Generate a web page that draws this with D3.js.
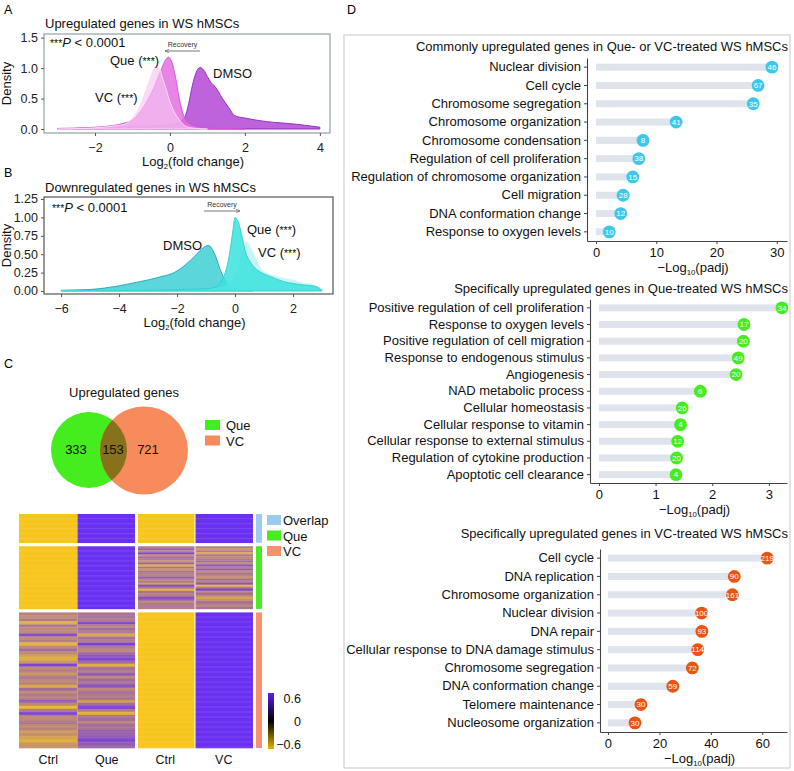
<!DOCTYPE html>
<html>
<head>
<meta charset="utf-8">
<script src="https://cdn.jsdelivr.net/npm/d3@7"></script>
<style>
  body { margin: 0; background: #fff; }
  svg { font-family: "Liberation Sans", Arial, sans-serif; }
</style>
</head>
<body>
<div id="fig"></div>
<script>
// ---- panel A: upregulated genes, density of log2 fold change
var aDmsoX = [-3, -2, -1.5, -1, -0.5, 0, 0.2, 0.4, 0.5, 0.6, 0.7, 0.8, 0.9, 1.0, 1.1, 1.2, 1.4, 1.56, 1.73, 2.0, 2.27, 2.6, 3.0, 3.5, 4.0]
var aDmsoY = [0.01, 0.02, 0.03, 0.04, 0.05, 0.07, 0.1, 0.2, 0.42, 0.72, 0.93, 1.01, 0.97, 0.86, 0.76, 0.7, 0.5, 0.36, 0.22, 0.18, 0.15, 0.12, 0.1, 0.07, 0.03]
var aQueX = [-3, -2, -1.5, -1.2, -1, -0.8, -0.6, -0.4, -0.25, -0.1, -0.04, 0.05, 0.15, 0.25, 0.35, 0.5, 0.7, 1.0, 1.5, 2]
var aQueY = [0.0, 0.03, 0.06, 0.1, 0.15, 0.28, 0.47, 0.72, 0.95, 1.15, 1.18, 1.1, 0.85, 0.5, 0.25, 0.1, 0.05, 0.02, 0.01, 0]
var aVcX = [-3, -2, -1.5, -1.2, -1, -0.84, -0.7, -0.55, -0.45, -0.36, -0.28, -0.2, -0.1, 0, 0.1, 0.25, 0.44, 0.7, 1]
var aVcY = [0, 0.02, 0.05, 0.08, 0.18, 0.33, 0.55, 0.8, 0.97, 1.04, 1.0, 0.84, 0.65, 0.45, 0.3, 0.15, 0.04, 0.01, 0]
var aYTicks = [0, 0.5, 1.0, 1.5]
var aXTicks = [-2, 0, 2, 4]

// ---- panel B: downregulated genes
var bDmsoX = [-6, -5.5, -5, -4.5, -4, -3.5, -3, -2.5, -2.1, -1.7, -1.4, -1.15, -0.92, -0.7, -0.5, -0.3, -0.15, 0, 0.3, 0.6]
var bDmsoY = [0.01, 0.015, 0.02, 0.04, 0.07, 0.11, 0.15, 0.2, 0.25, 0.36, 0.47, 0.57, 0.62, 0.5, 0.28, 0.12, 0.06, 0.03, 0.01, 0]
var bQueX = [-6, -3, -2, -1, -0.64, -0.45, -0.3, -0.18, -0.08, 0, 0.1, 0.23, 0.35, 0.52, 0.7, 0.86, 1.2, 1.66, 2.2, 2.8, 3]
var bQueY = [0, 0.01, 0.02, 0.03, 0.06, 0.15, 0.3, 0.53, 0.8, 1.0, 0.95, 0.76, 0.55, 0.4, 0.31, 0.26, 0.2, 0.13, 0.09, 0.06, 0.01]
var bVcX = [-6, -2, -1, -0.5, -0.2, 0, 0.17, 0.3, 0.4, 0.55, 0.75, 0.9, 1.1, 1.4, 1.66, 2.0, 2.2, 2.4, 2.6, 2.8, 3]
var bVcY = [0, 0.01, 0.02, 0.05, 0.1, 0.2, 0.4, 0.6, 0.67, 0.58, 0.42, 0.3, 0.24, 0.2, 0.17, 0.15, 0.13, 0.1, 0.1, 0.06, 0.01]
var bYTicks = [0, 0.25, 0.5, 0.75, 1.0, 1.25]
var bXTicks = [-6, -4, -2, 0, 2]

// ---- panel C: venn + heatmap
var vennSets = ["Que", "VC"]
var vennCounts = [333, 153, 721]   // Que only, overlap, VC only
var blockNames = ["Overlap", "Que", "VC"]
var blockGenes = [153, 333, 721]
var heatCols = ["Ctrl", "Que", "Ctrl", "VC"]
// share of genes higher in the treated column, per row bin of each block
var queShare = [
  [1],
  [1],
  [0.55, 0.6, 0.5, 0.85, 0.45, 0.6, 0.55, 0.2, 0.6, 0.5, 0.9, 0.55, 0.4, 0.6, 0.75, 0.85, 0.65, 0.15, 0.6, 0.5, 0.7, 0.45, 0.6, 0.55, 0.8, 0.4, 0.6, 0.5, 0.55, 0.3, 0.6, 0.9, 0.5, 0.15, 0.55, 0.6, 0.45, 0.6, 0.55, 0.7, 0.65, 0.75, 0.85, 0.7, 0.65]
]
var vcShare = [
  [1],
  [0.5, 0.3, 0.55, 0.15, 0.6, 0.4, 0.5, 0.65, 0.35, 0.85, 0.45, 0.7, 0.4, 0.55, 0.5, 0.3, 0.6, 0.45, 0.75, 0.1, 0.5, 0.9, 0.4, 0.6, 0.45, 0.2, 0.35, 0.6, 0.5, 0.45, 0.55],
  [1]
]
var zTicks = [-0.6, 0, 0.6]

// ---- panel D: GO terms
var d1Terms = ["Nuclear division", "Cell cycle", "Chromosome segregation", "Chromosome organization", "Chromosome condensation", "Regulation of cell proliferation", "Regulation of chromosome organization", "Cell migration", "DNA conformation change", "Response to oxygen levels"]
var d1Values = [29.2, 26.9, 26.1, 13.3, 7.8, 7.1, 6.1, 4.5, 4.1, 2.2]
var d1Counts = [46, 67, 35, 41, 8, 38, 15, 28, 12, 10]
var d2Terms = ["Positive regulation of cell proliferation", "Response to oxygen levels", "Positive regulation of cell migration", "Response to endogenous stimulus", "Angiogenesis", "NAD metabolic process", "Cellular homeostasis", "Cellular response to vitamin", "Cellular response to external stimulus", "Regulation of cytokine production", "Apoptotic cell clearance"]
var d2Values = [3.23, 2.56, 2.55, 2.46, 2.42, 1.79, 1.47, 1.44, 1.39, 1.37, 1.36]
var d2Counts = [34, 17, 20, 49, 20, 6, 26, 4, 12, 20, 4]
var d3Terms = ["Cell cycle", "DNA replication", "Chromosome organization", "Nuclear division", "DNA repair", "Cellular response to DNA damage stimulus", "Chromosome segregation", "DNA conformation change", "Telomere maintenance", "Nucleosome organization"]
var d3Values = [61.9, 49.1, 48.4, 36.4, 36.5, 34.9, 32.8, 25.2, 12.8, 10.5]
var d3Counts = [219, 90, 161, 100, 93, 114, 72, 59, 30, 30]

var svg = d3.select("#fig").append("svg")
  .attr("width", 794)
  .attr("height", 771)

function panelLetter(t, x, y) {
  svg.append("text").attr("x", x).attr("y", y).attr("font-size", 12.5).text(t)
}
panelLetter("A", 4, 14)
panelLetter("B", 4, 177)
panelLetter("C", 4, 368)
panelLetter("D", 347, 14)

// label with subscript
function subLabel(g, x, y, pre, sub, post, size, anchor) {
  var t = g.append("text").attr("x", x).attr("y", y).attr("font-size", size)
    .attr("text-anchor", anchor || "middle").attr("fill", "#111")
  t.append("tspan").text(pre)
  t.append("tspan").attr("font-size", size * 0.6).attr("dy", size * 0.25).text(sub)
  t.append("tspan").attr("dy", -size * 0.25).text(post)
}

function starLabel(x, y, pre, post) {
  var t = svg.append("text").attr("x", x).attr("y", y).attr("font-size", 13).attr("fill", "#111")
  t.append("tspan").text(pre)
  t.append("tspan").attr("font-size", 10.5).text("***")
  t.append("tspan").text(post)
}

function pLabel(x, y) {
  var t = svg.append("text").attr("x", x).attr("y", y).attr("font-size", 13).attr("fill", "#111")
  t.append("tspan").attr("font-size", 10.5).text("***")
  t.append("tspan").attr("font-style", "italic").text("P")
  t.append("tspan").text(" < 0.0001")
}

function densityPanel(o) {
  var x = d3.scaleLinear().domain(o.xDom).range([o.left, o.right])
  var y = d3.scaleLinear().domain(o.yDom).range([o.bottom, o.top])
  var area = d3.area().curve(d3.curveMonotoneX)
    .x(d => x(d[0])).y0(y(0)).y1(d => y(d[1]))
  o.series.forEach(function (s) {
    var pts = d3.zip(s.x, s.y)
    svg.append("path").attr("d", area(pts))
      .attr("fill", s.fill).attr("fill-opacity", s.alpha)
      .attr("stroke", s.stroke).attr("stroke-width", 0.9)
  })
  svg.append("rect").attr("x", o.left).attr("y", o.top)
    .attr("width", o.right - o.left).attr("height", o.bottom - o.top)
    .attr("fill", "none").attr("stroke", o.border).attr("stroke-width", 1.2)
  var ya = svg.append("g").attr("transform", "translate(" + o.left + ",0)")
    .call(d3.axisLeft(y).tickValues(o.yTicks).tickSize(3).tickFormat(o.yFmt))
  var xa = svg.append("g").attr("transform", "translate(0," + o.bottom + ")")
    .call(d3.axisBottom(x).tickValues(o.xTicks).tickSize(3).tickFormat(d3.format("d")))
  ;[ya, xa].forEach(function (a) {
    a.select(".domain").remove()
    a.selectAll("line").attr("stroke", "#555")
    a.selectAll("text").attr("font-size", 12.5).attr("fill", "#222").attr("font-family", "Liberation Sans, Arial, sans-serif")
  })
  xa.selectAll("text").attr("dy", "1.05em")
  svg.append("text").attr("font-size", 13).attr("fill", "#111")
    .attr("x", o.left + 1).attr("y", o.titleY).text(o.title)
  svg.append("text").attr("font-size", 13).attr("fill", "#111").attr("text-anchor", "middle")
    .attr("transform", "translate(" + (o.left - 33) + "," + ((o.top + o.bottom) / 2) + ") rotate(-90)")
    .text("Density")
  subLabel(svg, (o.left + o.right) / 2 + 6, o.xTitleY, "Log", "2", "(fold change)", 13)
  return x
}

densityPanel({
  left: 44, right: 330, top: 34, bottom: 133,
  xDom: [-3.36, 4.27], yDom: [-0.065, 1.56],
  xTicks: aXTicks, yTicks: aYTicks, yFmt: d3.format(".1f"),
  border: "#8fa3a3", title: "Upregulated genes in WS hMSCs", titleY: 28, xTitleY: 166,
  series: [
    { x: aDmsoX, y: aDmsoY, fill: "#b348d6", alpha: 0.85, stroke: "#8e22bc" },
    { x: aQueX, y: aQueY, fill: "#e46fe2", alpha: 0.85, stroke: "#d24fd2" },
    { x: aVcX, y: aVcY, fill: "#f7c6f2", alpha: 0.65, stroke: "#fbe2f8" }
  ]
})
pLabel(50, 47)
starLabel(110, 65, "Que (", ")")
starLabel(95, 102, "VC (", ")")
svg.append("text").attr("x", 213).attr("y", 78).attr("font-size", 13).attr("fill", "#111").text("DMSO")

densityPanel({
  left: 44, right: 333, top: 197, bottom: 294,
  xDom: [-6.59, 3.38], yDom: [-0.041, 1.277],
  xTicks: bXTicks, yTicks: bYTicks, yFmt: d3.format(".2f"),
  border: "#555", title: "Downregulated genes in WS hMSCs", titleY: 192, xTitleY: 327,
  series: [
    { x: bDmsoX, y: bDmsoY, fill: "#3fd0d2", alpha: 0.85, stroke: "#239fc4" },
    { x: bVcX, y: bVcY, fill: "#bff2f2", alpha: 0.85, stroke: "#d6f6f6" },
    { x: bQueX, y: bQueY, fill: "#39e2dc", alpha: 0.85, stroke: "#2ccfd2" }
  ]
})
pLabel(52, 212)
starLabel(247, 234, "Que (", ")")
starLabel(258, 257, "VC (", ")")
svg.append("text").attr("x", 163).attr("y", 250).attr("font-size", 13).attr("fill", "#111").text("DMSO")

// recovery arrows
svg.append("defs").append("marker").attr("id", "arr")
  .attr("viewBox", "0 0 10 10").attr("refX", 9).attr("refY", 5)
  .attr("markerWidth", 6).attr("markerHeight", 6).attr("orient", "auto-start-reverse")
  .append("path").attr("d", "M0,1 L9,5 L0,9").attr("fill", "none").attr("stroke", "#555").attr("stroke-width", 1.3)
function recovery(x1, x2, y) {
  svg.append("line").attr("x1", x1).attr("x2", x2).attr("y1", y).attr("y2", y)
    .attr("stroke", "#555").attr("stroke-width", 0.8).attr("marker-end", "url(#arr)")
  svg.append("text").attr("x", (x1 + x2) / 2).attr("y", y - 4).attr("font-size", 7)
    .attr("text-anchor", "middle").attr("fill", "#333").text("Recovery")
}
recovery(200, 165, 51)
recovery(204, 240, 211)

// ---- venn
var vennColors = ["#45ec1e", "#f78b5c"]
svg.append("text").attr("x", 124).attr("y", 397).attr("font-size", 13)
  .attr("text-anchor", "middle").attr("fill", "#111").text("Upregulated genes")
var circles = [{ cx: 89, cy: 450, r: 38 }, { cx: 144, cy: 450.5, r: 44 }]
svg.append("clipPath").attr("id", "vcclip").append("circle")
  .attr("cx", circles[1].cx).attr("cy", circles[1].cy).attr("r", circles[1].r)
circles.forEach(function (c, i) {
  svg.append("circle").attr("cx", c.cx).attr("cy", c.cy).attr("r", c.r).attr("fill", vennColors[i])
})
svg.append("circle").attr("cx", circles[0].cx).attr("cy", circles[0].cy).attr("r", circles[0].r)
  .attr("fill", "#87711b").attr("clip-path", "url(#vcclip)")
var vennX = [76, 113, 148]
vennCounts.forEach(function (v, i) {
  svg.append("text").attr("x", vennX[i]).attr("y", 454).attr("font-size", 13)
    .attr("text-anchor", "middle").attr("fill", "#111").text(v)
})
vennSets.forEach(function (s, i) {
  svg.append("rect").attr("x", 205).attr("y", 420 + i * 15.5).attr("width", 15).attr("height", 10).attr("fill", vennColors[i])
  svg.append("text").attr("x", 226).attr("y", 430 + i * 15.5).attr("font-size", 13).attr("fill", "#111").text(s)
})

// ---- heatmap
var hmTop = 514, hmGap = 3.5, hmBottom = 748
var totalGenes = d3.sum(blockGenes)
var rowPx = d3.scaleLinear().domain([0, totalGenes]).range([0, hmBottom - hmTop - hmGap * (blockGenes.length - 1)])
var blockY = []
var acc = hmTop
blockGenes.forEach(function (n) { blockY.push([acc, acc + rowPx(n)]); acc += rowPx(n) + hmGap })
var colX = d3.scaleBand().domain(d3.range(4)).range([19, 253]).paddingInner(0)
var yellow = "#f7c51c", purple = "#6a30f2"
var mix = d3.interpolateRgb(yellow, purple)
var shareSets = [queShare, vcShare]
var hm = svg.append("g")
blockY.forEach(function (yy, b) {
  shareSets.forEach(function (shares, pair) {
    var bins = shares[b]
    var by = d3.scaleLinear().domain([0, bins.length]).range(yy)
    bins.forEach(function (s, k) {
      var y0 = by(k), h = by(k + 1) - by(k)
      var xC = colX(pair * 2), xT = colX(pair * 2 + 1)
      var xs = pair === 0 ? [xC, xT] : [xC + 2, xT + 1]
      var w = pair === 0 ? [colX.bandwidth(), colX.bandwidth() - 1] : [colX.bandwidth() - 2, colX.bandwidth() - 1]
      hm.append("rect").attr("x", xs[0]).attr("y", y0).attr("width", w[0]).attr("height", h + 0.3).attr("fill", mix(1 - s))
      hm.append("rect").attr("x", xs[1]).attr("y", y0).attr("width", w[1]).attr("height", h + 0.3).attr("fill", mix(s))
    })
  })
})
// faint row lines over the heatmap
blockY.forEach(function (yy) {
  d3.range(yy[0] + 4, yy[1] - 1, 5).forEach(function (ly) {
    hm.append("rect").attr("x", 19).attr("y", ly).attr("width", 234).attr("height", 1.2)
      .attr("fill", "#fff").attr("opacity", 0.1)
  })
})
// block annotation bar
var annColors = ["#9ccbf0", "#45ec1e", "#f89070"]
blockY.forEach(function (yy, b) {
  svg.append("rect").attr("x", 256).attr("y", yy[0]).attr("width", 6).attr("height", yy[1] - yy[0]).attr("fill", annColors[b])
})
blockNames.forEach(function (n, i) {
  svg.append("rect").attr("x", 267).attr("y", 515 + i * 15.5).attr("width", 14).attr("height", 10).attr("fill", annColors[i])
  svg.append("text").attr("x", 283).attr("y", 525 + i * 15.5).attr("font-size", 13).attr("fill", "#111").text(n)
})
heatCols.forEach(function (c, i) {
  svg.append("text").attr("x", colX(i) + colX.bandwidth() / 2).attr("y", 764).attr("font-size", 12.5)
    .attr("text-anchor", "middle").attr("fill", "#111").text(c)
})
// colour key
var grad = svg.append("defs").append("linearGradient").attr("id", "zgrad")
  .attr("x1", 0).attr("x2", 0).attr("y1", 1).attr("y2", 0)
grad.append("stop").attr("offset", "0%").attr("stop-color", "#e2b300")
grad.append("stop").attr("offset", "50%").attr("stop-color", "#000")
grad.append("stop").attr("offset", "100%").attr("stop-color", "#5a1ef2")
svg.append("rect").attr("x", 268).attr("y", 693).attr("width", 6).attr("height", 56).attr("fill", "url(#zgrad)")
var zY = d3.scaleLinear().domain([-0.6, 0.6]).range([744, 698])
zTicks.forEach(function (t) {
  svg.append("text").attr("x", 301).attr("y", zY(t) + 4.5).attr("font-size", 12.5).attr("text-anchor", "end")
    .attr("fill", "#111").text(t === 0 ? "0" : (t < 0 ? "\u22120.6" : "0.6"))
})

// ---- panel D
svg.append("rect").attr("x", 344).attr("y", 35).attr("width", 446).attr("height", 733)
  .attr("fill", "none").attr("stroke", "#cfd3d3").attr("stroke-width", 1.2)

function lollipop(o) {
  var x = d3.scaleLinear().domain(o.xDom).range([o.axisX, 787])
  var y = d3.scaleBand().domain(o.terms).range([o.top, o.bottom])
  var g = svg.append("g")
  g.append("text").attr("x", 788).attr("y", o.titleY).attr("font-size", 13)
    .attr("text-anchor", "end").attr("fill", "#111").text(o.title)
  o.terms.forEach(function (t, i) {
    var cy = y(t) + y.bandwidth() / 2
    g.append("rect").attr("x", x(0)).attr("y", cy - 3.5).attr("width", x(o.values[i]) - x(0)).attr("height", 7).attr("fill", "#dee3ec")
    g.append("circle").attr("cx", x(o.values[i])).attr("cy", cy).attr("r", 6.4).attr("fill", o.color)
    g.append("text").attr("x", x(o.values[i])).attr("y", cy + 2.8).attr("font-size", 8)
      .attr("text-anchor", "middle").attr("fill", "#fff").text(o.counts[i])
  })
  var ya = g.append("g").attr("transform", "translate(" + o.axisX + ",0)")
    .call(d3.axisLeft(y).tickSize(3).tickSizeOuter(0))
  var xa = g.append("g").attr("transform", "translate(0," + o.bottom + ")")
    .call(d3.axisBottom(x).tickValues(o.ticks).tickSize(3).tickSizeOuter(0).tickFormat(d3.format("d")))
  ;[ya, xa].forEach(function (a) {
    a.select(".domain").attr("stroke", "#444").attr("stroke-width", 1.1)
    a.selectAll("line").attr("stroke", "#444")
    a.selectAll("text").attr("font-size", 13).attr("fill", "#111").attr("font-family", "Liberation Sans, Arial, sans-serif")
  })
  xa.selectAll("text").attr("font-size", 13).attr("dy", "0.8em")
  subLabel(g, (o.axisX + 787) / 2 + 6, o.bottom + 31, "\u2212Log", "10", "(padj)", 13)
}

lollipop({ terms: d1Terms, values: d1Values, counts: d1Counts, color: "#3ec6ec",
  xDom: [-1.5, 31.7], ticks: [0, 10, 20, 30], axisX: 587, top: 58, bottom: 241,
  titleY: 51, title: "Commonly upregulated genes in Que- or VC-treated WS hMSCs" })
lollipop({ terms: d2Terms, values: d2Values, counts: d2Counts, color: "#45ec1e",
  xDom: [-0.158, 3.32], ticks: [0, 1, 2, 3], axisX: 590, top: 299.5, bottom: 483,
  titleY: 293, title: "Specifically upregulated genes in Que-treated WS hMSCs" })
lollipop({ terms: d3Terms, values: d3Values, counts: d3Counts, color: "#ea5410",
  xDom: [-3.1, 69.6], ticks: [0, 20, 40, 60], axisX: 600, top: 549, bottom: 732,
  titleY: 538, title: "Specifically upregulated genes in VC-treated WS hMSCs" })
</script>
</body>
</html>
